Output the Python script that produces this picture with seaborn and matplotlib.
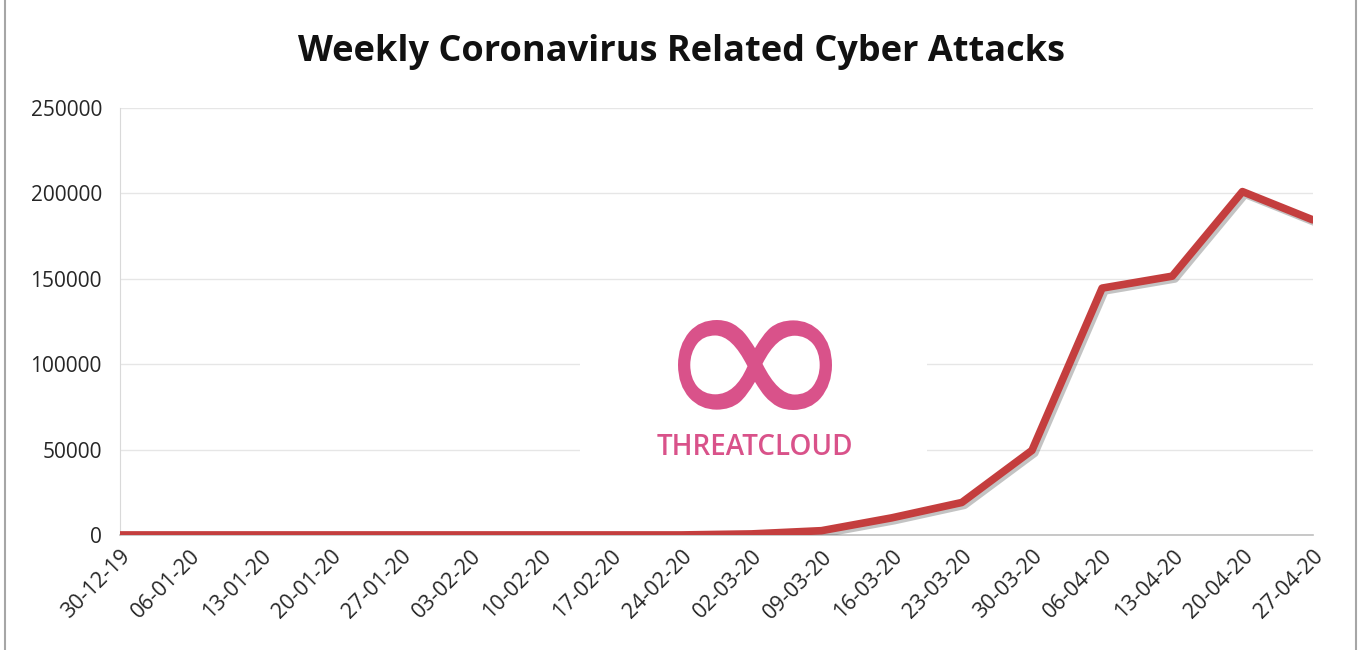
import pandas as pd
import matplotlib.pyplot as plt
import matplotlib.patheffects as pe
from matplotlib.patches import Rectangle, PathPatch
from matplotlib.textpath import TextPath
from matplotlib.font_manager import FontProperties
from matplotlib.transforms import Affine2D
from matplotlib.ticker import MultipleLocator, StrMethodFormatter
import seaborn as sns

# Weekly data
weeks = ['30-12-19', '06-01-20', '13-01-20', '20-01-20', '27-01-20', '03-02-20',
         '10-02-20', '17-02-20', '24-02-20', '02-03-20', '09-03-20', '16-03-20',
         '23-03-20', '30-03-20', '06-04-20', '13-04-20', '20-04-20', '27-04-20']
attacks = [0, 0, 0, 0, 0, 0,
           0, 0, 0, 600, 2500, 10000,
           19000, 49500, 144500, 151500, 201000, 184500]

title = 'Weekly Coronavirus Related Cyber Attacks'
line_color = '#C43E3E'
logo_color = '#D9528A'

df = pd.DataFrame({'pos': range(len(weeks)), 'week': weeks, 'attacks': attacks})

sns.set_style('white')
plt.rcParams['font.family'] = ['Open Sans', 'DejaVu Sans']

fig = plt.figure(figsize=(13.63, 6.5), dpi=100)
ax = fig.add_axes([0.088, 0.177, 0.875, 0.657])

# gridlines
ax.yaxis.grid(True, color='#E6E6E6', linewidth=1)
ax.set_axisbelow(True)

# white box behind the watermark hides the gridlines
ax.add_patch(Rectangle((0.386, 0.15), 0.291, 0.42, transform=ax.transAxes,
                       facecolor='white', edgecolor='none', zorder=1))

# watermark logo: infinity-shaped cloud, drawn as a shape in pixel units
logo = TextPath((0, 0), '\u221e', size=1, prop=FontProperties(family='DejaVu Sans'))
ext = logo.get_extents()
logo_tr = (Affine2D()
           .translate(-(ext.x0 + ext.width / 2), -(ext.y0 + ext.height / 2))
           .scale(154 / ext.width, 90 / ext.height)
           .translate(755, 650 - 365))
fig.patches.append(PathPatch(logo, transform=logo_tr, facecolor=logo_color,
                             edgecolor='none', zorder=2))
ax.text(0.532, 0.205, 'THREATCLOUD', transform=ax.transAxes, ha='center', va='center',
        fontsize=20, fontweight='semibold', color=logo_color, zorder=2)

sns.lineplot(data=df, x='pos', y='attacks', ax=ax, color=line_color, linewidth=5.5,
             sort=False, zorder=3,
             path_effects=[pe.SimpleLineShadow(offset=(2, -2), alpha=0.35, shadow_color='#555555'),
                           pe.Normal()])

ax.set_xlim(0, len(weeks) - 1)
ax.set_ylim(0, 250000)
ax.yaxis.set_major_locator(MultipleLocator(50000))
ax.yaxis.set_major_formatter(StrMethodFormatter('{x:.0f}'))
ax.set_xticks(df['pos'])
ax.set_xticklabels(weeks, rotation=45, ha='right', rotation_mode='anchor')
ax.tick_params(axis='y', labelsize=15, colors='#262626', length=0, pad=13)
ax.tick_params(axis='x', labelsize=15.5, colors='#262626', length=0, pad=8)
ax.set_xlabel('')
ax.set_ylabel('')

for side in ['top', 'right']:
    ax.spines[side].set_visible(False)
ax.spines['left'].set_color('#D9D9D9')
ax.spines['bottom'].set_color('#BFBFBF')
ax.spines['bottom'].set_linewidth(1.2)

fig.text(0.500, 0.92, title, ha='center', va='center', fontsize=26,
         fontweight='bold', color='#111111')

# outer chart frame
fig.patches.append(Rectangle((0.004, -0.01), 0.991, 1.02, transform=fig.transFigure,
                             facecolor='none', edgecolor='#A6A6A6', linewidth=1.5))

fig.savefig('out.png', dpi=100, facecolor='white')
